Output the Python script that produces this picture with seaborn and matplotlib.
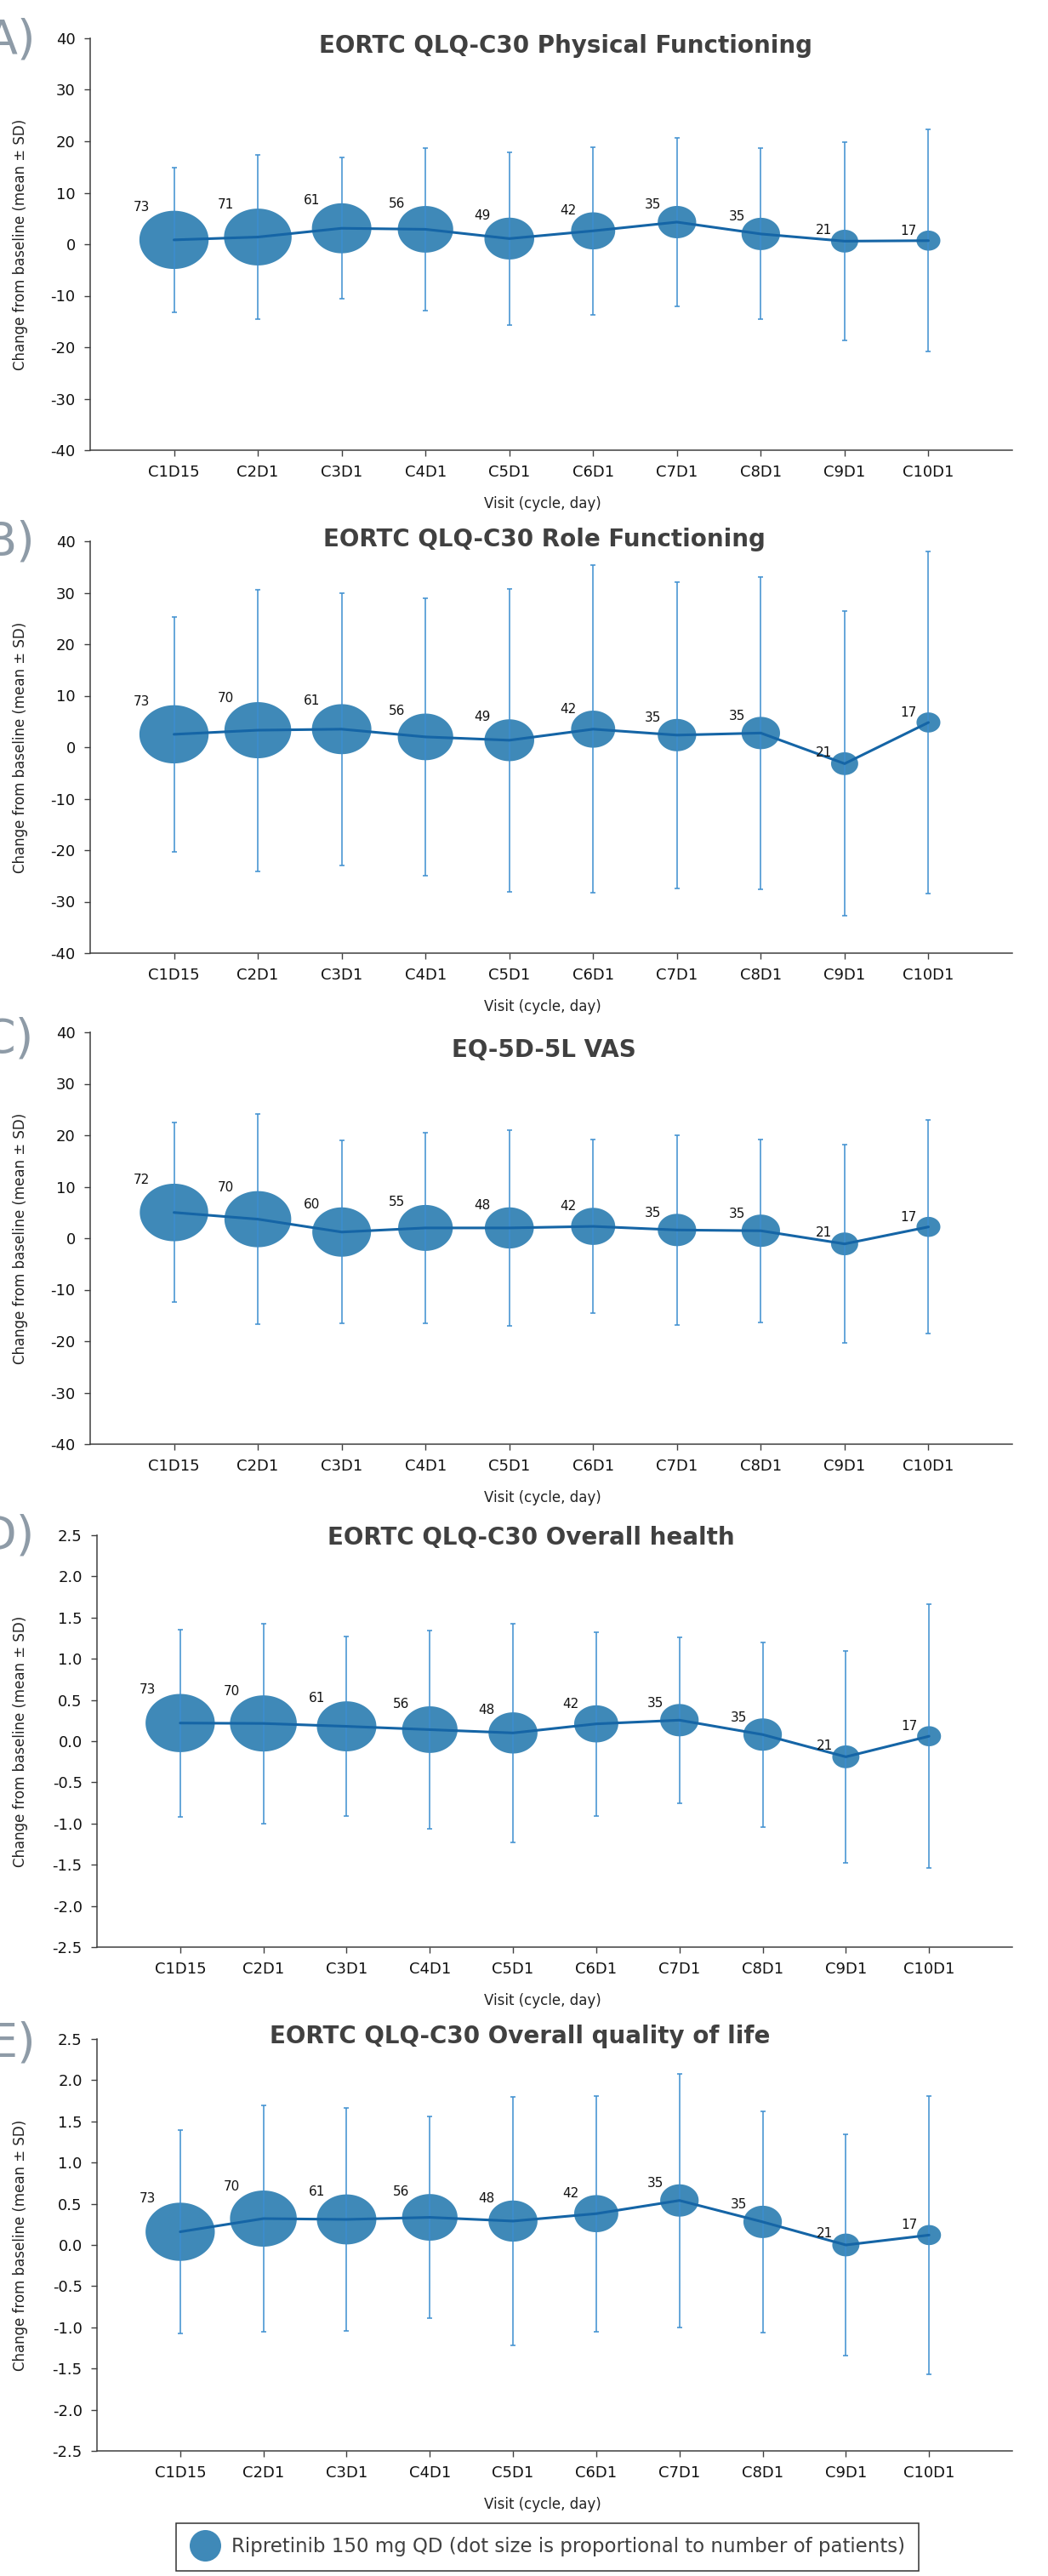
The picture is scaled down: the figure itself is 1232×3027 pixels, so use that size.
import numpy as np
import pandas as pd
import matplotlib
matplotlib.use("Agg")
import matplotlib.pyplot as plt
import seaborn as sns
from matplotlib.path import Path
from matplotlib.lines import Line2D

# ---------------- data ----------------
visits = ["C1D15", "C2D1", "C3D1", "C4D1", "C5D1", "C6D1", "C7D1", "C8D1", "C9D1", "C10D1"]

pf_n = [73, 71, 61, 56, 49, 42, 35, 35, 21, 17]
pf_mean = [0.85, 1.4, 3.1, 2.9, 1.1, 2.6, 4.3, 2.0, 0.6, 0.7]
pf_sd = [14.1, 16.0, 13.7, 15.8, 16.8, 16.3, 16.4, 16.6, 19.2, 21.6]

rf_n = [73, 70, 61, 56, 49, 42, 35, 35, 21, 17]
rf_mean = [2.5, 3.3, 3.5, 2.0, 1.35, 3.5, 2.35, 2.75, -3.2, 4.8]
rf_sd = [22.8, 27.35, 26.4, 27.0, 29.45, 31.8, 29.75, 30.35, 29.6, 33.2]

vas_n = [72, 70, 60, 55, 48, 42, 35, 35, 21, 17]
vas_mean = [5.0, 3.7, 1.2, 2.0, 2.0, 2.3, 1.6, 1.45, -1.1, 2.2]
vas_sd = [17.4, 20.4, 17.8, 18.5, 18.95, 16.9, 18.4, 17.75, 19.2, 20.7]

oh_n = [73, 70, 61, 56, 48, 42, 35, 35, 21, 17]
oh_mean = [0.22, 0.215, 0.18, 0.14, 0.10, 0.21, 0.255, 0.08, -0.19, 0.06]
oh_sd = [1.135, 1.215, 1.09, 1.20, 1.33, 1.115, 1.01, 1.12, 1.29, 1.60]

ql_n = [73, 70, 61, 56, 48, 42, 35, 35, 21, 17]
ql_mean = [0.16, 0.32, 0.31, 0.335, 0.29, 0.38, 0.54, 0.28, 0.0, 0.12]
ql_sd = [1.235, 1.37, 1.35, 1.225, 1.51, 1.43, 1.54, 1.34, 1.345, 1.69]

titles = ["EORTC QLQ-C30 Physical Functioning",
          "EORTC QLQ-C30 Role Functioning",
          "EQ-5D-5L VAS",
          "EORTC QLQ-C30 Overall health",
          "EORTC QLQ-C30 Overall quality of life"]
panel_letters = ["A)", "B)", "C)", "D)", "E)"]
big_ticks = [-40, -30, -20, -10, 0, 10, 20, 30, 40]
small_ticks = [-2.5, -2.0, -1.5, -1.0, -0.5, 0.0, 0.5, 1.0, 1.5, 2.0, 2.5]
legend_label = "Ripretinib 150 mg QD (dot size is proportional to number of patients)"
ylabel = "Change from baseline (mean \u00b1 SD)"
xlabel = "Visit (cycle, day)"

# ---------------- style ----------------
sns.set_style("ticks")
plt.rcParams["font.family"] = ["DejaVu Sans"]
plt.rcParams["axes.unicode_minus"] = False

W, H = 1232, 3027
DPI = 100
PT = 72.0 / DPI  # points per pixel

BUBBLE = "#3F89B8"
LINE = "#1565A6"
ERR = "#3C8ED0"
AXC = "#404040"
TITLEC = "#404040"
LETTERC = "#8E9BA7"
STRETCH = 1.19

theta = np.linspace(0, 2 * np.pi, 120)
ellipse = Path(np.column_stack([STRETCH * np.cos(theta), np.sin(theta)]), closed=True)


def diam_px(n):
    return 0.8 * n + 10.0


def size_of(n):
    return (PT * STRETCH * diam_px(n)) ** 2


fig = plt.figure(figsize=(W / DPI, H / DPI), dpi=DPI)

panels = [
    (pf_n, pf_mean, pf_sd, big_ticks, "{:.0f}"),
    (rf_n, rf_mean, rf_sd, big_ticks, "{:.0f}"),
    (vas_n, vas_mean, vas_sd, big_ticks, "{:.0f}"),
    (oh_n, oh_mean, oh_sd, small_ticks, "{:.1f}"),
    (ql_n, ql_mean, ql_sd, small_ticks, "{:.1f}"),
]
tops = [45, 636, 1213, 1804, 2396]
lefts = [106, 106, 106, 114, 114]
right = 1190
ph = 484
title_pos = [(665, 62), (640, 642), (639, 1242), (624, 1815), (611, 2401)]
letter_pos = [(42, 47), (41, 638), (40, 1222), (41, 1806), (42, 2401)]

for k, (n, mean, sd, ticks, fmt) in enumerate(panels):
    l, t = lefts[k], tops[k]
    ax = fig.add_axes([l / W, 1 - (t + ph) / H, (right - l) / W, ph / H])
    df = pd.DataFrame({"visit": visits, "n": n, "mean": mean, "sd": sd})
    sizes = {int(v): size_of(v) for v in set(n)}
    sns.scatterplot(data=df, x="visit", y="mean", size="n", sizes=sizes,
                    marker=ellipse, color=BUBBLE, edgecolor="none", linewidth=0,
                    legend=False, ax=ax, zorder=2)
    ax.errorbar(df["visit"], df["mean"], yerr=df["sd"], fmt="none", ecolor=ERR,
                elinewidth=1.1, capsize=2.2, capthick=1.1, zorder=3)
    sns.lineplot(data=df, x="visit", y="mean", sort=False, errorbar=None,
                 color=LINE, linewidth=2.2, ax=ax, zorder=4)
    for i, (nn, m) in enumerate(zip(n, mean)):
        hw = STRETCH * diam_px(nn) / 2
        hh = diam_px(nn) / 2
        ax.annotate(str(nn), xy=(i, m), xytext=(-(0.55 * hw + 6) * PT, (1.22 * hh - 7.5) * PT),
                    textcoords="offset points", ha="right", va="baseline",
                    fontsize=11, color="#111111", zorder=5)
    ax.set_xlim(-1, 10)
    ax.set_ylim(ticks[0], ticks[-1])
    ax.set_yticks(ticks)
    ax.set_yticklabels([fmt.format(v) for v in ticks])
    ax.set_xticks(range(len(visits)))
    ax.set_xticklabels(visits)
    for s in ["top", "right"]:
        ax.spines[s].set_visible(False)
    for s in ["left", "bottom"]:
        ax.spines[s].set_color(AXC)
        ax.spines[s].set_linewidth(1.1)
    ax.tick_params(axis="both", direction="out", length=5, width=1.0, color=AXC,
                   labelsize=13, labelcolor="#111111")
    ax.tick_params(axis="x", pad=7)
    ax.tick_params(axis="y", pad=7.5)
    ax.set_xlabel(xlabel, fontsize=12, color="#222222")
    ax.xaxis.set_label_coords((638 - l) / (right - l), -0.112)
    ax.set_ylabel(ylabel, fontsize=12, color="#222222")
    ax.yaxis.set_label_coords((33 - l) / (right - l), 0.5)
    ax.patch.set_alpha(0)
    tx, ty = title_pos[k]
    fig.text(tx / W, 1 - ty / H, titles[k], ha="center", va="baseline",
             fontsize=20, fontweight="bold", color=TITLEC)
    lx, ly = letter_pos[k]
    fig.text(lx / W, 1 - ly / H, panel_letters[k], ha="right", va="center",
             fontsize=40, color=LETTERC)

handle = Line2D([], [], linestyle="none", marker="o", markersize=37 * PT,
                markerfacecolor=BUBBLE, markeredgecolor="none")
leg = fig.legend(handles=[handle], labels=[legend_label], loc="center",
                 bbox_to_anchor=(643.5 / W, 1 - 2993 / H), frameon=True,
                 fancybox=False, edgecolor="#333333", framealpha=1,
                 fontsize=16.5, handlelength=1.5, handletextpad=0.6,
                 borderpad=0.7, labelcolor="#404040")
leg.get_frame().set_linewidth(1.1)

fig.savefig("out.png", dpi=DPI)
